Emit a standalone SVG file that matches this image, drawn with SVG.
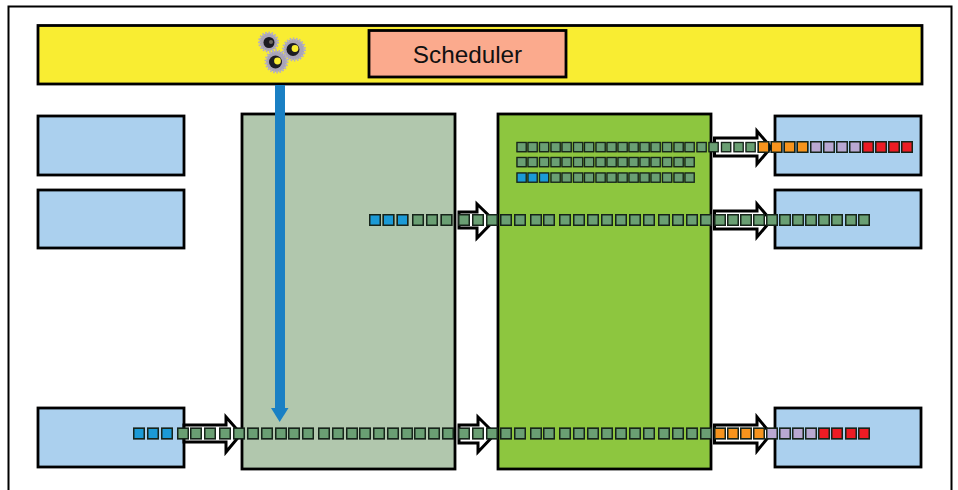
<svg xmlns="http://www.w3.org/2000/svg" width="958" height="490" viewBox="0 0 958 490">
<style>
.box{stroke:#000;stroke-width:2.8}
.sky{fill:#abd0ee}
.arrow{fill:#fff;stroke:#000;stroke-width:3;stroke-linejoin:miter}
.sq{stroke:#16241a;stroke-width:1.5;filter:drop-shadow(0 0 .6px rgba(0,0,0,.45))}
.ss{stroke:#16241a;stroke-width:1.3;filter:drop-shadow(0 0 .6px rgba(0,0,0,.4))}
.gear{fill:#a9a4b6;stroke:#b5b0c2;stroke-width:3;stroke-dasharray:1.6 1.4}
.hole{fill:#1d1a24}
</style>
<defs>
<filter id="soft" x="-20%" y="-20%" width="140%" height="140%"><feGaussianBlur stdDeviation="0.7"/></filter>
<rect id="g" class="sq" x="0.75" y="0.75" width="10.500" height="10.500" fill="#6a9f73"/>
<rect id="b" class="sq" x="0.75" y="0.75" width="10.500" height="10.500" fill="#1b9ad6"/>
<rect id="o" class="sq" x="0.75" y="0.75" width="10.500" height="10.500" fill="#f7941d"/>
<rect id="l" class="sq" x="0.75" y="0.75" width="10.500" height="10.500" fill="#b9a8d2"/>
<rect id="r" class="sq" x="0.75" y="0.75" width="10.500" height="10.500" fill="#ed1c24"/>
<rect id="gs" class="ss" x="1" y="1" width="9.200" height="9.200" fill="#6a9f73"/>
<rect id="bs" class="ss" x="1" y="1" width="9.200" height="9.200" fill="#1b9ad6"/>
</defs>
<rect width="958" height="490" fill="#fff"/>
<path d="M8.500 490V6.500H951.500V490" fill="none" stroke="#000" stroke-width="2"/>
<g id="top-bar"><rect class="box" x="38" y="25.500" width="884" height="58.500" fill="#f9ed32"/></g>
<g id="scheduler"><rect class="box" x="369" y="30.500" width="197" height="46.500" fill="#fbaa8d"/>
<text x="467.500" y="62.500" text-anchor="middle" font-family="'Liberation Sans',Arial,sans-serif" font-size="24.300" fill="#111">Scheduler</text></g>
<g id="gears" filter="url(#soft)">
<circle class="gear" cx="268.500" cy="42" r="9"/><circle class="hole" cx="269" cy="42.500" r="5.500"/><circle cx="271" cy="42" r="2" fill="#6b6660"/>
<circle class="gear" cx="294" cy="49.500" r="10.500"/><circle class="hole" cx="293" cy="49.500" r="6.500"/><circle cx="295" cy="48.500" r="3.400" fill="#f9ed32"/>
<circle class="gear" cx="276.500" cy="61.500" r="10.500"/><circle class="hole" cx="275.500" cy="62" r="6.500"/><circle cx="277.500" cy="61" r="3.400" fill="#f9ed32"/>
</g>
<g id="in-1"><rect class="box sky" x="38" y="116" width="146" height="59"/></g>
<g id="in-2"><rect class="box sky" x="38" y="190" width="146" height="58"/></g>
<g id="in-3"><rect class="box sky" x="38" y="408" width="146" height="59"/></g>
<g id="out-1"><rect class="box sky" x="775" y="116" width="146" height="59"/></g>
<g id="out-2"><rect class="box sky" x="775" y="190" width="146" height="58"/></g>
<g id="out-3"><rect class="box sky" x="775" y="408" width="146" height="59"/></g>
<g id="stage-1"><rect class="box" x="242" y="114" width="213" height="355" fill="#b1c7ad"/></g>
<g id="stage-2"><rect class="box" x="498" y="114" width="213" height="355" fill="#8dc63f"/></g>
<g id="connectors">
<path class="arrow" d="M714.500 138H757V131L771 147.500L757 164V156H714.500Z"/>
<path class="arrow" d="M714.500 211H757V204L771 220.500L757 237V229H714.500Z"/>
<path class="arrow" d="M714.500 425H757V417L771 434L757 451V443H714.500Z"/>
<path class="arrow" d="M459 212H477V204L494 220.500L477 238V228H459Z"/>
<path class="arrow" d="M459 425H478V417L495 434L478 452V443H459Z"/>
<path class="arrow" d="M184 425H226V417L241 434L226 452V442H184Z"/>
<path d="M280 85V409" stroke="#1a80c4" stroke-width="10" fill="none"/>
<path d="M271 408H288.500L279.700 422Z" fill="#1a80c4"/>
</g>
<g id="queue-a">
<use href="#gs" x="516" y="141.500"/><use href="#gs" x="527" y="141.500"/><use href="#gs" x="538.500" y="141.500"/><use href="#gs" x="550" y="141.500"/><use href="#gs" x="561" y="141.500"/><use href="#gs" x="572.500" y="141.500"/><use href="#gs" x="583.500" y="141.500"/><use href="#gs" x="595" y="141.500"/><use href="#gs" x="606" y="141.500"/><use href="#gs" x="617" y="141.500"/><use href="#gs" x="628" y="141.500"/><use href="#gs" x="639" y="141.500"/><use href="#gs" x="650" y="141.500"/><use href="#gs" x="661.500" y="141.500"/><use href="#gs" x="673" y="141.500"/><use href="#gs" x="684" y="141.500"/><use href="#gs" x="696" y="141.500"/><use href="#gs" x="708" y="141.500"/><use href="#gs" x="720.500" y="141.500"/><use href="#gs" x="733" y="141.500"/><use href="#gs" x="745" y="141.500"/>
<use href="#o" x="757.500" y="141"/><use href="#o" x="770.500" y="141"/><use href="#o" x="783.500" y="141"/><use href="#o" x="796.500" y="141"/>
<use href="#l" x="810" y="141"/><use href="#l" x="823" y="141"/><use href="#l" x="836" y="141"/><use href="#l" x="849" y="141"/>
<use href="#r" x="862" y="141"/><use href="#r" x="875" y="141"/><use href="#r" x="888" y="141"/><use href="#r" x="901" y="141"/>
</g>
<g id="queue-b">
<use href="#gs" x="516" y="156.500"/><use href="#gs" x="527" y="156.500"/><use href="#gs" x="538.500" y="156.500"/><use href="#gs" x="550" y="156.500"/><use href="#gs" x="561" y="156.500"/><use href="#gs" x="572.500" y="156.500"/><use href="#gs" x="583.500" y="156.500"/><use href="#gs" x="595" y="156.500"/><use href="#gs" x="606" y="156.500"/><use href="#gs" x="617" y="156.500"/><use href="#gs" x="628" y="156.500"/><use href="#gs" x="639" y="156.500"/><use href="#gs" x="650" y="156.500"/><use href="#gs" x="661.500" y="156.500"/><use href="#gs" x="673" y="156.500"/><use href="#gs" x="684" y="156.500"/>
</g>
<g id="queue-c">
<use href="#bs" x="516" y="172"/><use href="#bs" x="527" y="172"/><use href="#bs" x="538.500" y="172"/><use href="#gs" x="550" y="172"/><use href="#gs" x="561" y="172"/><use href="#gs" x="572.500" y="172"/><use href="#gs" x="583.500" y="172"/><use href="#gs" x="595" y="172"/><use href="#gs" x="606" y="172"/><use href="#gs" x="617" y="172"/><use href="#gs" x="628" y="172"/><use href="#gs" x="639" y="172"/><use href="#gs" x="650" y="172"/><use href="#gs" x="661.500" y="172"/><use href="#gs" x="673" y="172"/><use href="#gs" x="684" y="172"/>
</g>
<g id="queue-d">
<use href="#b" x="369" y="214"/><use href="#b" x="382.500" y="214"/><use href="#b" x="396.500" y="214"/>
<use href="#g" x="412" y="214"/><use href="#g" x="426" y="214"/><use href="#g" x="440.500" y="214"/><use href="#g" x="458" y="214"/><use href="#g" x="472" y="214"/><use href="#g" x="486" y="214"/><use href="#g" x="500" y="214"/><use href="#g" x="514" y="214"/><use href="#g" x="530" y="214"/><use href="#g" x="543" y="214"/><use href="#g" x="559" y="214"/><use href="#g" x="573" y="214"/><use href="#g" x="587" y="214"/><use href="#g" x="601" y="214"/><use href="#g" x="615" y="214"/><use href="#g" x="629" y="214"/><use href="#g" x="643" y="214"/><use href="#g" x="658" y="214"/><use href="#g" x="672" y="214"/><use href="#g" x="686" y="214"/><use href="#g" x="700" y="214"/><use href="#g" x="714" y="214"/><use href="#g" x="727" y="214"/><use href="#g" x="740" y="214"/><use href="#g" x="753" y="214"/><use href="#g" x="766" y="214"/><use href="#g" x="779" y="214"/><use href="#g" x="792" y="214"/><use href="#g" x="805" y="214"/><use href="#g" x="818" y="214"/><use href="#g" x="831" y="214"/><use href="#g" x="845" y="214"/><use href="#g" x="858" y="214"/>
</g>
<g id="queue-e">
<use href="#b" x="133" y="427.500"/><use href="#b" x="147" y="427.500"/><use href="#b" x="161" y="427.500"/>
<use href="#g" x="177" y="427.500"/><use href="#g" x="190" y="427.500"/><use href="#g" x="204" y="427.500"/><use href="#g" x="219" y="427.500"/><use href="#g" x="233" y="427.500"/><use href="#g" x="247" y="427.500"/><use href="#g" x="261" y="427.500"/><use href="#g" x="275" y="427.500"/><use href="#g" x="288" y="427.500"/><use href="#g" x="302" y="427.500"/><use href="#g" x="318" y="427.500"/><use href="#g" x="332" y="427.500"/><use href="#g" x="346" y="427.500"/><use href="#g" x="359" y="427.500"/><use href="#g" x="373" y="427.500"/><use href="#g" x="387" y="427.500"/><use href="#g" x="401" y="427.500"/><use href="#g" x="414" y="427.500"/><use href="#g" x="428" y="427.500"/><use href="#g" x="442" y="427.500"/><use href="#g" x="458" y="427.500"/><use href="#g" x="472" y="427.500"/><use href="#g" x="486" y="427.500"/><use href="#g" x="500" y="427.500"/><use href="#g" x="514" y="427.500"/><use href="#g" x="530" y="427.500"/><use href="#g" x="543" y="427.500"/><use href="#g" x="559" y="427.500"/><use href="#g" x="573" y="427.500"/><use href="#g" x="587" y="427.500"/><use href="#g" x="601" y="427.500"/><use href="#g" x="615" y="427.500"/><use href="#g" x="629" y="427.500"/><use href="#g" x="643" y="427.500"/><use href="#g" x="658" y="427.500"/><use href="#g" x="672" y="427.500"/><use href="#g" x="686" y="427.500"/><use href="#g" x="700" y="427.500"/>
<use href="#o" x="714" y="427.500"/><use href="#o" x="727" y="427.500"/><use href="#o" x="740" y="427.500"/><use href="#o" x="753" y="427.500"/>
<use href="#l" x="766" y="427.500"/><use href="#l" x="779" y="427.500"/><use href="#l" x="792" y="427.500"/><use href="#l" x="805" y="427.500"/>
<use href="#r" x="818" y="427.500"/><use href="#r" x="831" y="427.500"/><use href="#r" x="845" y="427.500"/><use href="#r" x="858" y="427.500"/>
</g>
</svg>
